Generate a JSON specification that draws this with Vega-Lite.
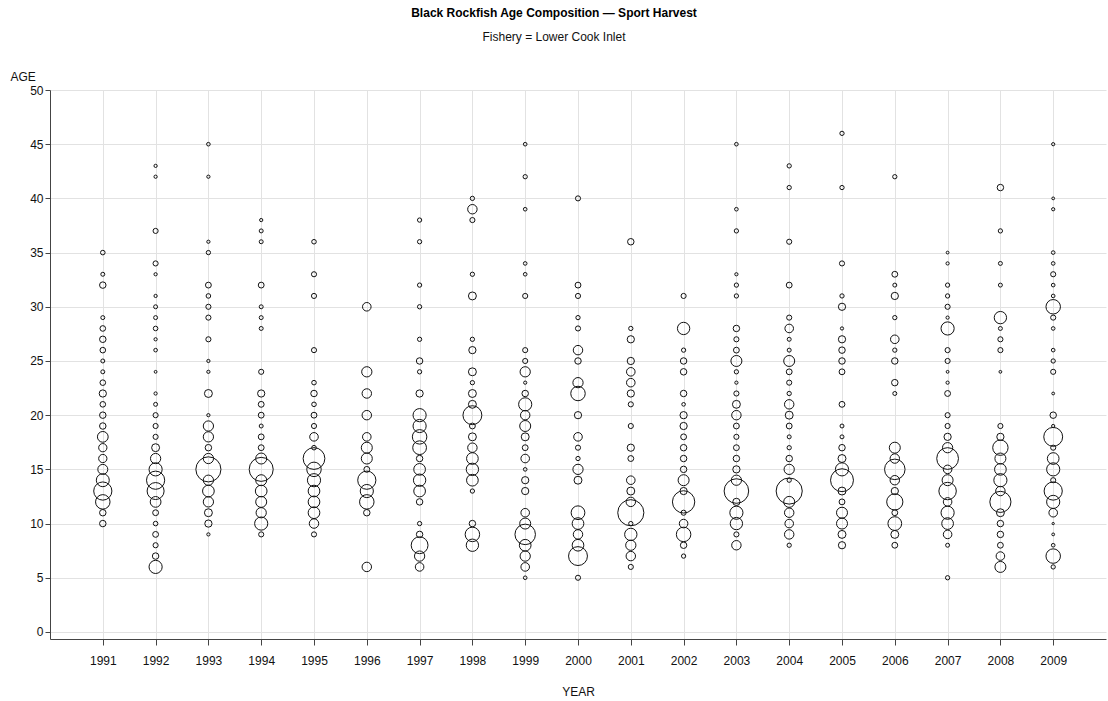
{
  "$schema": "https://vega.github.io/schema/vega-lite/v6.json",
  "autosize": "none",
  "width": 1056,
  "height": 549,
  "padding": {"left": 50, "top": 90, "right": 2, "bottom": 62},
  "background": "white",
  "config": {
    "font": "Liberation Sans",
    "view": {"stroke": null},
    "axis": {"gridColor": "#e2e2e2", "gridWidth": 1, "domainColor": "#444", "tickColor": "#444", "labelColor": "#111", "titleColor": "#111", "labelFont": "Liberation Sans", "titleFont": "Liberation Sans", "labelFontSize": 12, "titleFontSize": 12, "titleFontWeight": "normal"}
  },
  "title": {
    "text": "Black Rockfish Age Composition — Sport Harvest",
    "subtitle": "Fishery =  Lower Cook Inlet",
    "anchor": "middle",
    "dx": -24,
    "offset": 26,
    "font": "Liberation Sans",
    "fontSize": 12,
    "fontWeight": "bold",
    "color": "#000",
    "subtitleFont": "Liberation Sans",
    "subtitleFontSize": 12,
    "subtitleColor": "#111",
    "subtitlePadding": 12
  },
  "data": {
    "values": [
      {"year":1991,"age":35,"pct":0.4},{"year":1991,"age":33,"pct":0.3},{"year":1991,"age":32,"pct":0.8},{"year":1991,"age":29,"pct":0.3},{"year":1991,"age":28,"pct":0.6},{"year":1991,"age":27,"pct":0.8},{"year":1991,"age":26,"pct":0.6},{"year":1991,"age":25,"pct":0.3},{"year":1991,"age":24,"pct":0.3},{"year":1991,"age":23,"pct":0.6},{"year":1991,"age":22,"pct":1.0},{"year":1991,"age":21,"pct":0.6},{"year":1991,"age":20,"pct":0.8},{"year":1991,"age":19,"pct":0.8},{"year":1991,"age":18,"pct":2.2},{"year":1991,"age":17,"pct":1.3},{"year":1991,"age":16,"pct":1.3},{"year":1991,"age":15,"pct":1.9},{"year":1991,"age":14,"pct":3.2},{"year":1991,"age":13,"pct":6.3},{"year":1991,"age":12,"pct":4.0},{"year":1991,"age":11,"pct":0.8},{"year":1991,"age":10,"pct":0.8},
      {"year":1992,"age":43,"pct":0.2},{"year":1992,"age":42,"pct":0.2},{"year":1992,"age":37,"pct":0.5},{"year":1992,"age":34,"pct":0.5},{"year":1992,"age":33,"pct":0.2},{"year":1992,"age":31,"pct":0.2},{"year":1992,"age":30,"pct":0.3},{"year":1992,"age":29,"pct":0.3},{"year":1992,"age":28,"pct":0.4},{"year":1992,"age":27,"pct":0.2},{"year":1992,"age":26,"pct":0.25},{"year":1992,"age":24,"pct":0.15},{"year":1992,"age":22,"pct":0.2},{"year":1992,"age":21,"pct":0.3},{"year":1992,"age":20,"pct":0.5},{"year":1992,"age":19,"pct":0.5},{"year":1992,"age":18,"pct":0.5},{"year":1992,"age":17,"pct":1.2},{"year":1992,"age":16,"pct":2.0},{"year":1992,"age":15,"pct":3.3},{"year":1992,"age":14,"pct":6.3},{"year":1992,"age":13,"pct":5.5},{"year":1992,"age":12,"pct":2.2},{"year":1992,"age":11,"pct":0.65},{"year":1992,"age":10,"pct":0.4},{"year":1992,"age":9,"pct":0.65},{"year":1992,"age":8,"pct":0.5},{"year":1992,"age":7,"pct":0.8},{"year":1992,"age":6,"pct":3.3},
      {"year":1993,"age":45,"pct":0.25},{"year":1993,"age":42,"pct":0.2},{"year":1993,"age":36,"pct":0.2},{"year":1993,"age":35,"pct":0.35},{"year":1993,"age":32,"pct":0.65},{"year":1993,"age":31,"pct":0.4},{"year":1993,"age":30,"pct":0.5},{"year":1993,"age":29,"pct":0.5},{"year":1993,"age":27,"pct":0.5},{"year":1993,"age":25,"pct":0.2},{"year":1993,"age":24,"pct":0.2},{"year":1993,"age":22,"pct":1.2},{"year":1993,"age":20,"pct":0.2},{"year":1993,"age":19,"pct":2.0},{"year":1993,"age":18,"pct":2.0},{"year":1993,"age":17,"pct":0.8},{"year":1993,"age":16,"pct":2.0},{"year":1993,"age":15,"pct":12.0},{"year":1993,"age":14,"pct":2.0},{"year":1993,"age":13,"pct":2.6},{"year":1993,"age":12,"pct":2.0},{"year":1993,"age":11,"pct":1.2},{"year":1993,"age":10,"pct":1.0},{"year":1993,"age":9,"pct":0.2},
      {"year":1994,"age":38,"pct":0.2},{"year":1994,"age":37,"pct":0.3},{"year":1994,"age":36,"pct":0.3},{"year":1994,"age":32,"pct":0.65},{"year":1994,"age":30,"pct":0.3},{"year":1994,"age":29,"pct":0.3},{"year":1994,"age":28,"pct":0.3},{"year":1994,"age":24,"pct":0.5},{"year":1994,"age":22,"pct":1.0},{"year":1994,"age":21,"pct":0.65},{"year":1994,"age":20,"pct":0.65},{"year":1994,"age":19,"pct":0.3},{"year":1994,"age":18,"pct":0.65},{"year":1994,"age":17,"pct":0.65},{"year":1994,"age":16,"pct":2.3},{"year":1994,"age":15,"pct":11.0},{"year":1994,"age":14,"pct":2.3},{"year":1994,"age":13,"pct":2.6},{"year":1994,"age":12,"pct":2.3},{"year":1994,"age":11,"pct":2.0},{"year":1994,"age":10,"pct":3.3},{"year":1994,"age":9,"pct":0.5},
      {"year":1995,"age":36,"pct":0.4},{"year":1995,"age":33,"pct":0.5},{"year":1995,"age":31,"pct":0.5},{"year":1995,"age":26,"pct":0.5},{"year":1995,"age":23,"pct":0.4},{"year":1995,"age":22,"pct":0.8},{"year":1995,"age":21,"pct":0.4},{"year":1995,"age":20,"pct":0.65},{"year":1995,"age":19,"pct":0.5},{"year":1995,"age":18,"pct":1.4},{"year":1995,"age":17,"pct":0.4},{"year":1995,"age":16,"pct":9.0},{"year":1995,"age":15,"pct":4.0},{"year":1995,"age":14,"pct":3.3},{"year":1995,"age":13,"pct":2.6},{"year":1995,"age":12,"pct":2.6},{"year":1995,"age":11,"pct":2.6},{"year":1995,"age":10,"pct":1.7},{"year":1995,"age":9,"pct":0.5},
      {"year":1996,"age":30,"pct":1.4},{"year":1996,"age":24,"pct":2.0},{"year":1996,"age":22,"pct":1.7},{"year":1996,"age":20,"pct":1.7},{"year":1996,"age":18,"pct":1.4},{"year":1996,"age":17,"pct":2.3},{"year":1996,"age":16,"pct":2.3},{"year":1996,"age":15,"pct":0.65},{"year":1996,"age":14,"pct":6.3},{"year":1996,"age":13,"pct":3.3},{"year":1996,"age":12,"pct":4.0},{"year":1996,"age":11,"pct":0.8},{"year":1996,"age":6,"pct":1.7},
      {"year":1997,"age":38,"pct":0.35},{"year":1997,"age":36,"pct":0.35},{"year":1997,"age":32,"pct":0.35},{"year":1997,"age":30,"pct":0.35},{"year":1997,"age":27,"pct":0.35},{"year":1997,"age":25,"pct":0.8},{"year":1997,"age":24,"pct":0.35},{"year":1997,"age":22,"pct":1.0},{"year":1997,"age":20,"pct":3.3},{"year":1997,"age":19,"pct":3.3},{"year":1997,"age":18,"pct":4.0},{"year":1997,"age":17,"pct":3.6},{"year":1997,"age":16,"pct":0.8},{"year":1997,"age":15,"pct":2.6},{"year":1997,"age":14,"pct":2.9},{"year":1997,"age":13,"pct":2.6},{"year":1997,"age":12,"pct":0.8},{"year":1997,"age":10,"pct":0.35},{"year":1997,"age":9,"pct":0.8},{"year":1997,"age":8,"pct":5.4},{"year":1997,"age":7,"pct":2.0},{"year":1997,"age":6,"pct":1.4},
      {"year":1998,"age":40,"pct":0.35},{"year":1998,"age":39,"pct":1.7},{"year":1998,"age":38,"pct":0.5},{"year":1998,"age":33,"pct":0.35},{"year":1998,"age":31,"pct":1.2},{"year":1998,"age":27,"pct":0.35},{"year":1998,"age":26,"pct":1.0},{"year":1998,"age":24,"pct":1.2},{"year":1998,"age":23,"pct":0.35},{"year":1998,"age":22,"pct":1.2},{"year":1998,"age":21,"pct":1.2},{"year":1998,"age":20,"pct":6.8},{"year":1998,"age":19,"pct":0.65},{"year":1998,"age":18,"pct":1.2},{"year":1998,"age":17,"pct":1.7},{"year":1998,"age":16,"pct":2.6},{"year":1998,"age":15,"pct":2.9},{"year":1998,"age":14,"pct":2.6},{"year":1998,"age":13,"pct":0.35},{"year":1998,"age":10,"pct":0.8},{"year":1998,"age":9,"pct":4.0},{"year":1998,"age":8,"pct":2.9},
      {"year":1999,"age":45,"pct":0.25},{"year":1999,"age":42,"pct":0.35},{"year":1999,"age":39,"pct":0.25},{"year":1999,"age":34,"pct":0.25},{"year":1999,"age":33,"pct":0.25},{"year":1999,"age":31,"pct":0.5},{"year":1999,"age":26,"pct":0.5},{"year":1999,"age":25,"pct":0.5},{"year":1999,"age":24,"pct":2.0},{"year":1999,"age":23,"pct":0.2},{"year":1999,"age":22,"pct":0.8},{"year":1999,"age":21,"pct":3.3},{"year":1999,"age":20,"pct":1.7},{"year":1999,"age":19,"pct":2.3},{"year":1999,"age":18,"pct":1.2},{"year":1999,"age":17,"pct":0.65},{"year":1999,"age":16,"pct":1.4},{"year":1999,"age":15,"pct":0.25},{"year":1999,"age":14,"pct":1.0},{"year":1999,"age":13,"pct":1.0},{"year":1999,"age":11,"pct":1.4},{"year":1999,"age":10,"pct":2.3},{"year":1999,"age":9,"pct":8.0},{"year":1999,"age":8,"pct":2.6},{"year":1999,"age":7,"pct":2.0},{"year":1999,"age":6,"pct":1.4},{"year":1999,"age":5,"pct":0.25},
      {"year":2000,"age":40,"pct":0.5},{"year":2000,"age":32,"pct":0.65},{"year":2000,"age":31,"pct":0.5},{"year":2000,"age":29,"pct":0.35},{"year":2000,"age":28,"pct":0.5},{"year":2000,"age":26,"pct":1.7},{"year":2000,"age":25,"pct":0.8},{"year":2000,"age":23,"pct":2.0},{"year":2000,"age":22,"pct":4.0},{"year":2000,"age":20,"pct":1.0},{"year":2000,"age":18,"pct":1.4},{"year":2000,"age":17,"pct":0.5},{"year":2000,"age":16,"pct":0.35},{"year":2000,"age":15,"pct":2.0},{"year":2000,"age":14,"pct":1.2},{"year":2000,"age":11,"pct":3.6},{"year":2000,"age":10,"pct":2.6},{"year":2000,"age":9,"pct":1.7},{"year":2000,"age":8,"pct":2.6},{"year":2000,"age":7,"pct":6.8},{"year":2000,"age":5,"pct":0.5},
      {"year":2001,"age":36,"pct":0.8},{"year":2001,"age":28,"pct":0.35},{"year":2001,"age":27,"pct":1.0},{"year":2001,"age":25,"pct":1.0},{"year":2001,"age":24,"pct":1.4},{"year":2001,"age":23,"pct":1.4},{"year":2001,"age":22,"pct":1.0},{"year":2001,"age":21,"pct":0.5},{"year":2001,"age":19,"pct":0.5},{"year":2001,"age":17,"pct":1.0},{"year":2001,"age":16,"pct":0.65},{"year":2001,"age":14,"pct":1.4},{"year":2001,"age":13,"pct":1.2},{"year":2001,"age":12,"pct":1.7},{"year":2001,"age":11,"pct":13.0},{"year":2001,"age":10,"pct":0.35},{"year":2001,"age":9,"pct":2.9},{"year":2001,"age":8,"pct":2.0},{"year":2001,"age":7,"pct":1.7},{"year":2001,"age":6,"pct":0.5},
      {"year":2002,"age":31,"pct":0.5},{"year":2002,"age":28,"pct":2.9},{"year":2002,"age":26,"pct":0.35},{"year":2002,"age":25,"pct":0.8},{"year":2002,"age":24,"pct":0.8},{"year":2002,"age":22,"pct":0.8},{"year":2002,"age":21,"pct":0.25},{"year":2002,"age":20,"pct":1.0},{"year":2002,"age":19,"pct":1.0},{"year":2002,"age":18,"pct":0.65},{"year":2002,"age":17,"pct":0.8},{"year":2002,"age":16,"pct":0.8},{"year":2002,"age":15,"pct":0.8},{"year":2002,"age":14,"pct":2.3},{"year":2002,"age":13,"pct":1.0},{"year":2002,"age":12,"pct":9.5},{"year":2002,"age":11,"pct":0.5},{"year":2002,"age":10,"pct":1.4},{"year":2002,"age":9,"pct":4.0},{"year":2002,"age":8,"pct":0.8},{"year":2002,"age":7,"pct":0.35},
      {"year":2003,"age":45,"pct":0.25},{"year":2003,"age":39,"pct":0.25},{"year":2003,"age":37,"pct":0.35},{"year":2003,"age":33,"pct":0.2},{"year":2003,"age":32,"pct":0.35},{"year":2003,"age":31,"pct":0.35},{"year":2003,"age":28,"pct":0.8},{"year":2003,"age":27,"pct":0.5},{"year":2003,"age":26,"pct":0.65},{"year":2003,"age":25,"pct":2.3},{"year":2003,"age":24,"pct":0.35},{"year":2003,"age":23,"pct":0.2},{"year":2003,"age":22,"pct":0.5},{"year":2003,"age":21,"pct":1.2},{"year":2003,"age":20,"pct":1.7},{"year":2003,"age":19,"pct":0.65},{"year":2003,"age":18,"pct":0.5},{"year":2003,"age":17,"pct":0.65},{"year":2003,"age":16,"pct":0.8},{"year":2003,"age":15,"pct":1.0},{"year":2003,"age":14,"pct":2.0},{"year":2003,"age":13,"pct":11.5},{"year":2003,"age":12,"pct":1.0},{"year":2003,"age":11,"pct":3.3},{"year":2003,"age":10,"pct":2.9},{"year":2003,"age":9,"pct":0.5},{"year":2003,"age":8,"pct":1.7},
      {"year":2004,"age":43,"pct":0.35},{"year":2004,"age":41,"pct":0.35},{"year":2004,"age":36,"pct":0.5},{"year":2004,"age":32,"pct":0.65},{"year":2004,"age":29,"pct":0.5},{"year":2004,"age":28,"pct":1.4},{"year":2004,"age":27,"pct":0.3},{"year":2004,"age":26,"pct":0.3},{"year":2004,"age":25,"pct":2.3},{"year":2004,"age":24,"pct":0.65},{"year":2004,"age":23,"pct":0.5},{"year":2004,"age":22,"pct":0.35},{"year":2004,"age":21,"pct":1.7},{"year":2004,"age":20,"pct":1.2},{"year":2004,"age":19,"pct":0.65},{"year":2004,"age":18,"pct":0.3},{"year":2004,"age":17,"pct":0.35},{"year":2004,"age":16,"pct":0.8},{"year":2004,"age":15,"pct":2.0},{"year":2004,"age":14,"pct":0.35},{"year":2004,"age":13,"pct":13.0},{"year":2004,"age":12,"pct":2.3},{"year":2004,"age":11,"pct":1.7},{"year":2004,"age":10,"pct":1.4},{"year":2004,"age":9,"pct":1.7},{"year":2004,"age":8,"pct":0.35},
      {"year":2005,"age":46,"pct":0.35},{"year":2005,"age":41,"pct":0.35},{"year":2005,"age":34,"pct":0.5},{"year":2005,"age":31,"pct":0.35},{"year":2005,"age":30,"pct":1.0},{"year":2005,"age":28,"pct":0.2},{"year":2005,"age":27,"pct":1.0},{"year":2005,"age":26,"pct":0.8},{"year":2005,"age":25,"pct":0.8},{"year":2005,"age":24,"pct":0.65},{"year":2005,"age":21,"pct":0.65},{"year":2005,"age":19,"pct":0.3},{"year":2005,"age":18,"pct":0.3},{"year":2005,"age":17,"pct":0.8},{"year":2005,"age":16,"pct":1.2},{"year":2005,"age":15,"pct":3.3},{"year":2005,"age":14,"pct":10.0},{"year":2005,"age":13,"pct":1.2},{"year":2005,"age":12,"pct":0.65},{"year":2005,"age":11,"pct":2.3},{"year":2005,"age":10,"pct":2.3},{"year":2005,"age":9,"pct":1.2},{"year":2005,"age":8,"pct":1.0},
      {"year":2006,"age":42,"pct":0.35},{"year":2006,"age":33,"pct":0.65},{"year":2006,"age":32,"pct":0.3},{"year":2006,"age":31,"pct":1.0},{"year":2006,"age":29,"pct":0.35},{"year":2006,"age":27,"pct":1.4},{"year":2006,"age":26,"pct":0.35},{"year":2006,"age":25,"pct":0.8},{"year":2006,"age":23,"pct":0.8},{"year":2006,"age":22,"pct":0.3},{"year":2006,"age":17,"pct":2.3},{"year":2006,"age":16,"pct":1.7},{"year":2006,"age":15,"pct":8.0},{"year":2006,"age":14,"pct":1.7},{"year":2006,"age":13,"pct":1.0},{"year":2006,"age":12,"pct":5.0},{"year":2006,"age":11,"pct":0.65},{"year":2006,"age":10,"pct":3.6},{"year":2006,"age":9,"pct":1.2},{"year":2006,"age":8,"pct":0.65},
      {"year":2007,"age":35,"pct":0.15},{"year":2007,"age":34,"pct":0.2},{"year":2007,"age":32,"pct":0.35},{"year":2007,"age":31,"pct":0.35},{"year":2007,"age":30,"pct":0.5},{"year":2007,"age":29,"pct":0.2},{"year":2007,"age":28,"pct":3.3},{"year":2007,"age":26,"pct":0.5},{"year":2007,"age":25,"pct":0.5},{"year":2007,"age":24,"pct":0.15},{"year":2007,"age":23,"pct":0.2},{"year":2007,"age":22,"pct":0.65},{"year":2007,"age":20,"pct":0.5},{"year":2007,"age":19,"pct":0.5},{"year":2007,"age":18,"pct":1.0},{"year":2007,"age":17,"pct":2.0},{"year":2007,"age":16,"pct":9.0},{"year":2007,"age":15,"pct":1.4},{"year":2007,"age":14,"pct":2.3},{"year":2007,"age":13,"pct":5.8},{"year":2007,"age":12,"pct":1.4},{"year":2007,"age":11,"pct":3.3},{"year":2007,"age":10,"pct":2.6},{"year":2007,"age":9,"pct":1.4},{"year":2007,"age":8,"pct":0.3},{"year":2007,"age":5,"pct":0.35},
      {"year":2008,"age":41,"pct":0.8},{"year":2008,"age":37,"pct":0.35},{"year":2008,"age":34,"pct":0.3},{"year":2008,"age":32,"pct":0.3},{"year":2008,"age":29,"pct":2.9},{"year":2008,"age":28,"pct":0.3},{"year":2008,"age":27,"pct":0.5},{"year":2008,"age":26,"pct":0.5},{"year":2008,"age":24,"pct":0.15},{"year":2008,"age":19,"pct":0.5},{"year":2008,"age":18,"pct":1.0},{"year":2008,"age":17,"pct":4.5},{"year":2008,"age":16,"pct":2.3},{"year":2008,"age":15,"pct":2.6},{"year":2008,"age":14,"pct":3.3},{"year":2008,"age":13,"pct":1.7},{"year":2008,"age":12,"pct":8.5},{"year":2008,"age":11,"pct":1.2},{"year":2008,"age":10,"pct":0.8},{"year":2008,"age":9,"pct":0.8},{"year":2008,"age":8,"pct":0.65},{"year":2008,"age":7,"pct":1.4},{"year":2008,"age":6,"pct":2.3},
      {"year":2009,"age":45,"pct":0.2},{"year":2009,"age":40,"pct":0.15},{"year":2009,"age":39,"pct":0.2},{"year":2009,"age":35,"pct":0.25},{"year":2009,"age":34,"pct":0.25},{"year":2009,"age":33,"pct":0.5},{"year":2009,"age":32,"pct":0.25},{"year":2009,"age":31,"pct":0.25},{"year":2009,"age":30,"pct":4.0},{"year":2009,"age":29,"pct":0.5},{"year":2009,"age":28,"pct":0.25},{"year":2009,"age":26,"pct":0.25},{"year":2009,"age":25,"pct":0.35},{"year":2009,"age":24,"pct":0.5},{"year":2009,"age":22,"pct":0.15},{"year":2009,"age":20,"pct":0.8},{"year":2009,"age":19,"pct":0.2},{"year":2009,"age":18,"pct":6.8},{"year":2009,"age":17,"pct":0.5},{"year":2009,"age":16,"pct":2.6},{"year":2009,"age":15,"pct":3.3},{"year":2009,"age":14,"pct":0.5},{"year":2009,"age":13,"pct":6.3},{"year":2009,"age":12,"pct":3.3},{"year":2009,"age":11,"pct":1.4},{"year":2009,"age":10,"pct":0.1},{"year":2009,"age":9,"pct":0.15},{"year":2009,"age":8,"pct":0.25},{"year":2009,"age":7,"pct":4.0},{"year":2009,"age":6,"pct":0.35}
    ]
  },
  "mark": {"type": "point", "shape": "circle", "filled": false, "stroke": "#111", "strokeWidth": 1, "opacity": 1},
  "encoding": {
    "x": {
      "field": "year", "type": "quantitative",
      "scale": {"domain": [1990, 2010], "nice": false, "zero": false},
      "axis": {"title": "YEAR", "values": [1991,1992,1993,1994,1995,1996,1997,1998,1999,2000,2001,2002,2003,2004,2005,2006,2007,2008,2009], "format": "d", "grid": true, "tickSize": 6, "labelPadding": 10, "titlePadding": 20, "labelFlush": false}
    },
    "y": {
      "field": "age", "type": "quantitative",
      "scale": {"domain": [-0.65, 50], "nice": false, "zero": false},
      "axis": {"title": "AGE", "values": [0,5,10,15,20,25,30,35,40,45,50], "grid": true, "tickSize": 5, "labelPadding": 2, "titleAngle": 0, "titleAlign": "left", "titleBaseline": "alphabetic", "titleX": -40, "titleY": -10, "labelFlush": false}
    },
    "size": {
      "field": "pct", "type": "quantitative",
      "scale": {"type": "linear", "domain": [0, 12], "range": [0, 630], "zero": true},
      "legend": null
    }
  }
}
